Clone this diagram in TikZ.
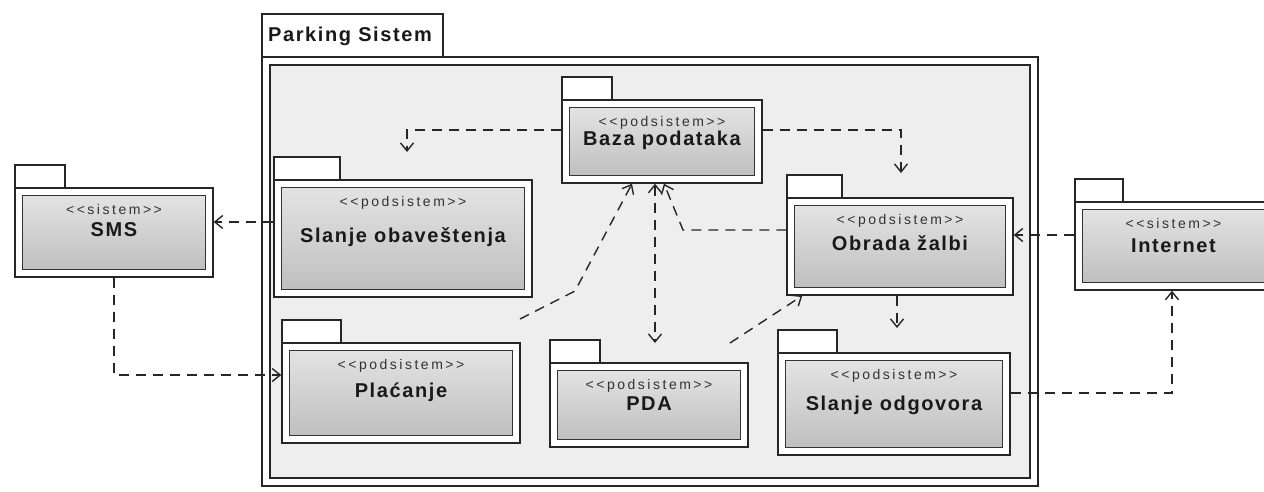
\documentclass[tikz,border=0pt]{standalone}
\usepackage{fontspec}
\setmainfont{Liberation Sans}
\newfontfamily\namefont[LetterSpace=8]{Liberation Sans}
\newfontfamily\stfont[LetterSpace=18]{Liberation Sans}
\usetikzlibrary{arrows.meta,calc}
\tikzset{
 frame/.style={draw=black!85, line width=1.4pt, fill=white, inner sep=0pt},
 core/.style={draw=black!80, line width=1.3pt, top color=gray!22, bottom color=gray!50, inner sep=0pt},
 tabbox/.style={draw=black!85, line width=1.3pt, fill=white},
 dep/.style={draw=black!85, line width=1.4pt, dash pattern=on 10pt off 7pt, -{Straight Barb[length=8pt,width=13pt]}},
 depboth/.style={draw=black!85, line width=1.4pt, dash pattern=on 10pt off 7pt, {Straight Barb[length=8pt,width=13pt]}-{Straight Barb[length=8pt,width=13pt]}},
 stereo/.style={font=\stfont\fontsize{14}{16}\selectfont, anchor=mid, inner sep=0pt, text=black!80},
 pname/.style={font=\namefont\bfseries\fontsize{20}{24}\selectfont, anchor=mid, inner sep=0pt, text=black!90},
}
% id x1 y1 x2 y2 tabw stereo name namey
\newcommand\umlpkg[9]{%
  \draw[tabbox] (#2,#3) rectangle ({#2+#6},{#3-23});
  \node[frame, minimum width={(#4-#2)*1pt}, minimum height={(#5-#3)*1pt}] (#1) at ({(#2+#4)/2},{(#3+#5)/2}) {};
  \node[core, minimum width={(#4-#2-15)*1pt}, minimum height={(#5-#3-15)*1pt}] (#1-in) at (#1.center) {};
  \node[stereo] (#1-st) at ({(#2+#4)/2},{#3+24}) {<{}<#7>{}>};
  \node[pname] (#1-nm) at ({(#2+#4)/2},#9) {#8};
}
\begin{document}
\begin{tikzpicture}[x=1pt,y=-1pt]
\useasboundingbox (0,0) rectangle (1264,491);
\clip (0,0) rectangle (1264,491);
\fill[white] (0,0) rectangle (1264,491);
% Parking Sistem container
\draw[tabbox] (262,14) rectangle (443,57);
\node[frame, minimum width=776pt, minimum height=429pt] (park) at (650,271.5) {};
\node[draw=black!85, line width=1.3pt, fill=gray!13, minimum width=760pt, minimum height=413pt, inner sep=0pt] (park-in) at (park.center) {};
\node[pname, anchor=base west] (park-t) at (268,41) {Parking Sistem};
% packages
\umlpkg{sms}{15}{188}{213}{277}{50}{sistem}{SMS}{234}
\umlpkg{baza}{562}{100}{762}{183}{50}{podsistem}{Baza podataka}{143}
\umlpkg{slanjeo}{274}{180}{532}{297}{66}{podsistem}{Slanje obaveštenja}{240}
\umlpkg{plac}{282}{343}{520}{443}{59}{podsistem}{Plaćanje}{395}
\umlpkg{pda}{550}{363}{748}{447}{50}{podsistem}{PDA}{408}
\umlpkg{obrada}{787}{198}{1013}{295}{55}{podsistem}{Obrada žalbi}{248}
\umlpkg{slanjeodg}{778}{353}{1010}{455}{59}{podsistem}{Slanje odgovora}{408}
\umlpkg{internet}{1075}{202}{1272}{290}{48}{sistem}{Internet}{250}
% free ends
\coordinate (c1) at (407,152);
\coordinate (c2) at (901,173);
\coordinate (c4) at (655,343);
\coordinate (c5) at (520,319);
\coordinate (c6) at (730,343);
\coordinate (c7) at (897,328);
% connectors
\draw[dep] ([yshift=11.5pt]baza.west) -| (c1);
\draw[dep] ([yshift=11.5pt]baza.east) -| (c2);
\draw[dep] ([yshift=16.5pt]obrada.west) -- (683,230) -- ([xshift=2pt]baza.south);
\draw[depboth] ([xshift=-7pt]baza.south) -- (c4);
\draw[dep] (c5) -- (575,291) -- ([xshift=-30pt]baza.south);
\draw[dep] (c6) -- ([xshift=16pt]obrada.south west);
\draw[dep] ([xshift=-3pt]obrada.south) -- (c7);
\draw[dep] ([yshift=11pt]internet.west) -- ([yshift=11pt]internet.west -| obrada.east);
\draw[dep] ([yshift=16.5pt]slanjeo.west) -- ([yshift=16.5pt]slanjeo.west -| sms.east);
\draw[dep] (sms.south) |- ([yshift=18pt]plac.west);
\draw[dep] ([yshift=11pt]slanjeodg.east) -| ([xshift=-1.5pt]internet.south);
\end{tikzpicture}
\end{document}
